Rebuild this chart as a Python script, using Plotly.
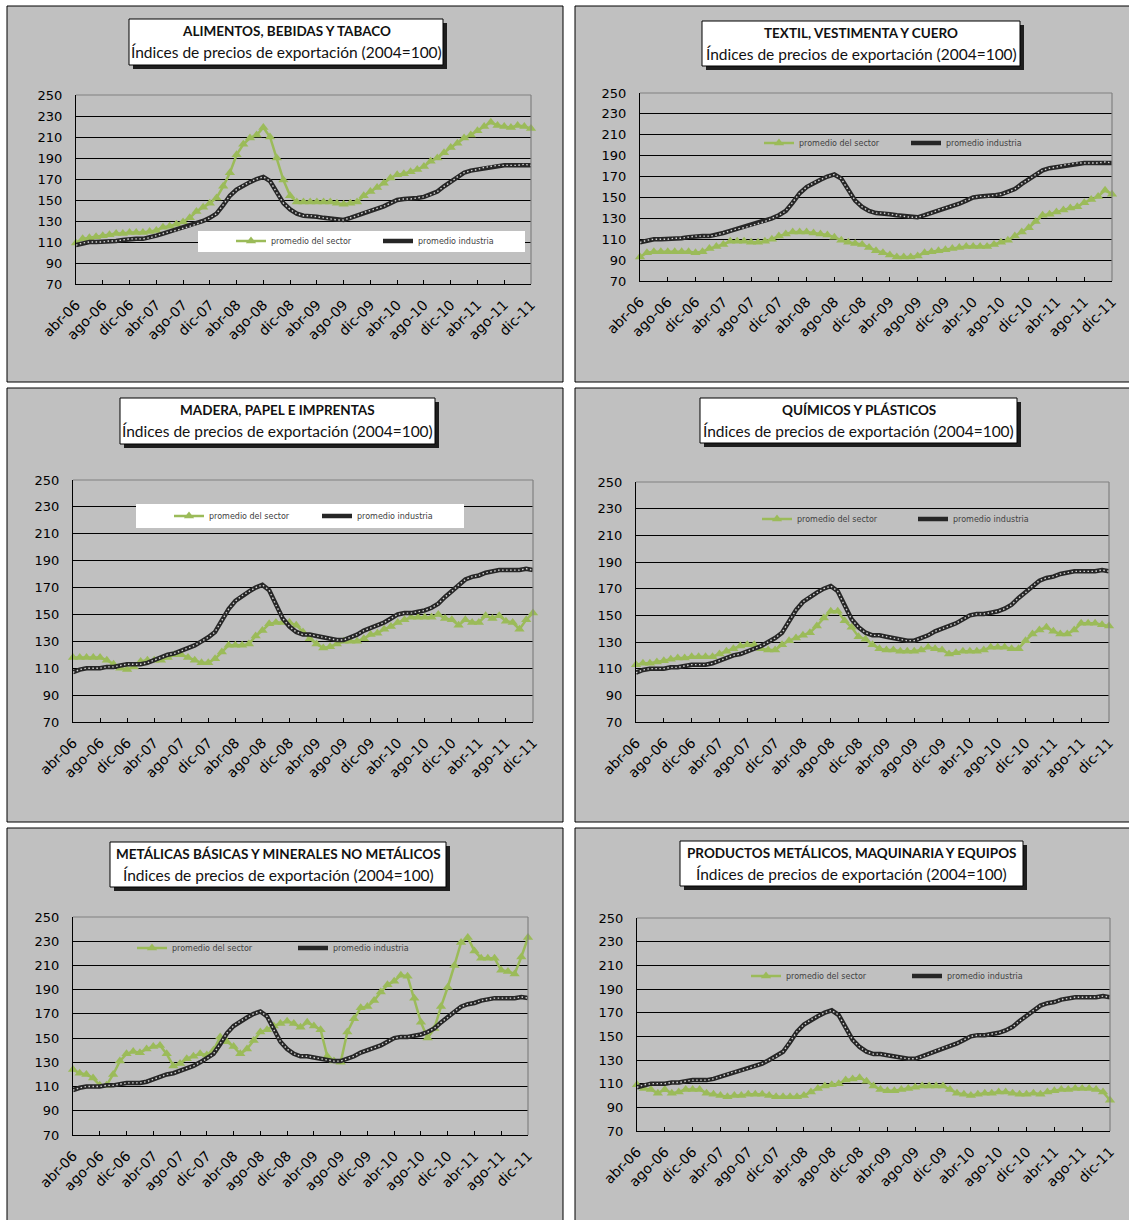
import plotly.graph_objects as go

W, H = 1129, 1220

# ---------------- data ----------------
month_abbr = ["ene", "feb", "mar", "abr", "may", "jun", "jul", "ago", "sep", "oct", "nov", "dic"]
periods = [f"{m}-{y:02d}" for y in range(6, 12) for m in month_abbr][3:]   # abr-06 ... dic-11
tick_labels = periods[::4]

industria = [107, 109, 110, 110, 110, 111, 111, 112, 113, 113, 113, 114,
             116, 118, 120, 121, 123, 125, 127, 130, 133, 137, 145, 154,
             160, 164, 167, 170, 172, 168, 157, 147, 141, 137, 135, 135,
             134, 133, 132, 131, 131, 133, 135, 138, 140, 142, 144, 147,
             150, 151, 151, 152, 153, 155, 158, 163, 167, 172, 176, 178,
             179, 181, 182, 183, 183, 183, 183, 184, 183]

alimentos = [109, 113, 114, 115, 116, 117, 118, 118, 119, 119, 119, 120,
             121, 124, 125, 127, 129, 133, 139, 143, 147, 152, 163, 176,
             193, 203, 209, 212, 219, 210, 190, 169, 154, 148, 148, 148,
             148, 148, 148, 147, 146, 147, 148, 154, 158, 162, 166, 171,
             174, 175, 177, 179, 182, 187, 190, 195, 200, 204, 209, 212,
             216, 220, 224, 221, 220, 219, 221, 220, 218]

textil = [93, 97, 98, 98, 98, 98, 98, 98, 97, 98, 101, 103,
          105, 108, 108, 108, 107, 107, 108, 110, 113, 115, 117, 117,
          117, 116, 115, 114, 112, 109, 107, 106, 105, 102, 99, 97,
          95, 93, 93, 93, 94, 97, 98, 99, 100, 101, 102, 103,
          103, 103, 103, 105, 107, 109, 113, 117, 121, 127, 133, 134,
          136, 138, 140, 141, 145, 148, 151, 157, 153]

madera = [118, 118, 118, 118, 118, 116, 113, 110, 109, 111, 115, 116,
          116, 116, 118, 120, 120, 118, 116, 114, 114, 117, 122, 127,
          127, 127, 128, 134, 138, 143, 144, 144, 144, 142, 137, 132,
          128, 125, 126, 128, 130, 130, 130, 132, 135, 136, 139, 141,
          144, 146, 148, 148, 148, 148, 150, 147, 146, 142, 146, 144,
          144, 149, 147, 149, 145, 144, 139, 146, 151]

quimicos = [113, 114, 114, 115, 116, 117, 118, 118, 119, 119, 119, 119,
            121, 123, 125, 127, 128, 128, 125, 124, 124, 128, 131, 133,
            135, 137, 142, 148, 153, 153, 146, 141, 134, 132, 128, 125,
            124, 124, 123, 123, 123, 124, 126, 125, 124, 121, 122, 123,
            123, 123, 124, 126, 126, 126, 125, 125, 131, 136, 139, 141,
            138, 136, 136, 139, 144, 144, 144, 143, 142]

metalicas = [124, 121, 120, 117, 111, 111, 120, 131, 137, 139, 138, 141,
             143, 144, 137, 127, 129, 133, 135, 137, 136, 140, 151, 147,
             143, 137, 141, 148, 155, 157, 160, 162, 164, 162, 159, 163,
             160, 157, 135, 131, 130, 155, 166, 175, 176, 181, 188, 194,
             197, 202, 201, 183, 163, 150, 158, 176, 192, 210, 229, 233,
             222, 216, 216, 216, 206, 205, 203, 217, 233]

productos = [109, 106, 105, 102, 105, 102, 103, 105, 105, 105, 102, 101,
             100, 99, 100, 100, 101, 101, 101, 100, 99, 99, 99, 99,
             100, 103, 106, 108, 109, 110, 113, 114, 115, 112, 108, 105,
             104, 104, 105, 106, 107, 108, 108, 108, 108, 105, 102, 101,
             100, 101, 102, 102, 103, 103, 102, 101, 101, 102, 101, 103,
             104, 105, 105, 106, 106, 106, 105, 103, 96]

titles = ["ALIMENTOS, BEBIDAS Y TABACO",
          "TEXTIL, VESTIMENTA Y CUERO",
          "MADERA, PAPEL E IMPRENTAS",
          "QUÍMICOS Y PLÁSTICOS",
          "METÁLICAS BÁSICAS Y MINERALES NO METÁLICOS",
          "PRODUCTOS METÁLICOS, MAQUINARIA Y EQUIPOS"]
subtitle = "Índices de precios de exportación (2004=100)"
sectors = [alimentos, textil, madera, quimicos, metalicas, productos]
name_sector = "promedio del sector"
name_industria = "promedio industria"

# ---------------- layout geometry (pixels) ----------------
panels = [
    dict(frame=(7, 6, 563, 382), plot=(76, 95, 531, 284), tbox=(129, 19, 443, 65),
         leg=(236, 241), gap=147, lbox=(198, 231, 525, 252)),
    dict(frame=(575, 6, 1135, 382), plot=(640, 93, 1112, 281), tbox=(702, 21, 1020, 66),
         leg=(764, 143), gap=147, lbox=None),
    dict(frame=(7, 388, 563, 822), plot=(73, 480, 533, 722), tbox=(120, 398, 435, 444),
         leg=(174, 516), gap=148, lbox=(136, 504, 464, 528)),
    dict(frame=(575, 388, 1135, 822), plot=(636, 482, 1109, 722), tbox=(700, 398, 1017, 443),
         leg=(762, 519), gap=156, lbox=None),
    dict(frame=(7, 828, 563, 1230), plot=(73, 917, 528, 1135), tbox=(110, 842, 446, 887),
         leg=(137, 948), gap=161, lbox=None),
    dict(frame=(575, 828, 1135, 1230), plot=(637, 918, 1110, 1131), tbox=(680, 841, 1023, 886),
         leg=(751, 976), gap=161, lbox=None),
]

GREEN = "#9BBB59"
DARK = "#262626"
YFONT = dict(family="DejaVu Sans", size=13, color="black")
XFONT = dict(family="DejaVu Sans", size=14, color="black")

def fx(x):
    return x / W

def fy(y):
    return 1 - y / H

fig = go.Figure()
shapes = []
annotations = []
layout_extra = {}

for k, (p, sec) in enumerate(zip(panels, sectors), start=1):
    sfx = "" if k == 1 else str(k)
    xa, ya, lg = "x" + sfx, "y" + sfx, "legend" + sfx

    fig.add_trace(go.Scatter(
        x=periods, y=sec, xaxis=xa, yaxis=ya, legend=lg, name=name_sector,
        mode="lines+markers", line=dict(color=GREEN, width=2.5),
        marker=dict(symbol="triangle-up", size=9, color=GREEN),
        cliponaxis=False, hoverinfo="skip"))
    fig.add_trace(go.Scatter(
        x=periods, y=industria, xaxis=xa, yaxis=ya, legend=lg, name=name_industria,
        mode="lines", line=dict(color=DARK, width=4.5), cliponaxis=False, hoverinfo="skip"))
    fig.add_trace(go.Scatter(
        x=periods, y=industria, xaxis=xa, yaxis=ya, showlegend=False,
        mode="lines", line=dict(color="rgba(255,255,255,0.8)", width=1.4, dash="1.5px,2.5px"),
        cliponaxis=False, hoverinfo="skip"))

    x0, y0, x1, y1 = p["plot"]
    layout_extra["xaxis" + sfx] = dict(
        domain=[fx(x0), fx(x1)], anchor=ya, type="category", range=[0, len(periods) - 1],
        tickmode="array", tickvals=tick_labels, ticktext=tick_labels, tickangle=-45,
        ticks="inside", ticklen=4, tickcolor="black", tickwidth=1,
        showline=True, linecolor="black", linewidth=1.3, showgrid=False, zeroline=False,
        tickfont=XFONT, ticklabelstandoff=6, automargin=False, fixedrange=True)
    layout_extra["yaxis" + sfx] = dict(
        domain=[fy(y1), fy(y0)], anchor=xa, range=[70, 250], tick0=70, dtick=20,
        showgrid=True, gridcolor="black", gridwidth=1, zeroline=False,
        showline=True, linecolor="black", linewidth=1.3, ticks="",
        tickfont=YFONT, ticklabelstandoff=10, automargin=False, fixedrange=True)

    lx, ly = p["leg"]
    layout_extra[lg] = dict(
        orientation="h", x=fx(lx - 5), y=fy(ly), xanchor="left", yanchor="middle",
        bgcolor="rgba(0,0,0,0)", borderwidth=0,
        font=dict(family="DejaVu Sans", size=8, color="#404040"),
        itemwidth=30, entrywidth=p["gap"] - 45, entrywidthmode="pixels",
        itemclick=False, itemdoubleclick=False)

    # frame
    fx0, fy0, fx1, fy1 = p["frame"]
    shapes.append(dict(type="rect", xref="paper", yref="paper",
                       x0=fx(fx0), x1=fx(fx1), y0=fy(fy1), y1=fy(fy0),
                       fillcolor="#C0C0C0", line=dict(color="black", width=1), layer="below"))
    # plot-area border (gray top/right)
    shapes.append(dict(type="line", xref=xa + " domain", yref=ya + " domain",
                       x0=0, x1=1, y0=1, y1=1, line=dict(color="#808080", width=1.2),
                       layer="above"))
    shapes.append(dict(type="line", xref=xa + " domain", yref=ya + " domain",
                       x0=1, x1=1, y0=0, y1=1, line=dict(color="#808080", width=1.2),
                       layer="above"))
    # legend white box covering gridlines
    if p["lbox"]:
        bx0, by0, bx1, by1 = p["lbox"]
        shapes.append(dict(type="rect", xref="paper", yref="paper",
                           x0=fx(bx0), x1=fx(bx1), y0=fy(by1), y1=fy(by0),
                           fillcolor="white", line=dict(width=0), layer="above"))
    # title box with shadow
    tx0, ty0, tx1, ty1 = p["tbox"]
    shapes.append(dict(type="rect", xref="paper", yref="paper",
                       x0=fx(tx0 + 4), x1=fx(tx1 + 4), y0=fy(ty1 + 4), y1=fy(ty0 + 4),
                       fillcolor="#1E1E1E", line=dict(width=0), layer="below"))
    shapes.append(dict(type="rect", xref="paper", yref="paper",
                       x0=fx(tx0), x1=fx(tx1), y0=fy(ty1), y1=fy(ty0),
                       fillcolor="white", line=dict(color="black", width=1), layer="below"))
    cx = (tx0 + tx1) / 2
    annotations.append(dict(xref="paper", yref="paper", x=fx(cx), y=fy(ty0 + 12),
                            text=titles[k - 1], showarrow=False, xanchor="center", yanchor="middle",
                            font=dict(family="Lato", size=13.5, color="#111", weight="bold")))
    annotations.append(dict(xref="paper", yref="paper", x=fx(cx), y=fy(ty0 + 33),
                            text=subtitle, showarrow=False, xanchor="center", yanchor="middle",
                            font=dict(family="Lato", size=15.5, color="#111")))

fig.update_layout(
    width=W, height=H, autosize=False,
    margin=dict(l=0, r=0, t=0, b=0, autoexpand=False),
    paper_bgcolor="white", plot_bgcolor="white",
    shapes=shapes, annotations=annotations,
    hovermode=False,
    **layout_extra)

fig.write_html("out.html", include_plotlyjs=True, config={"displayModeBar": False},
               post_script="document.body.style.margin='0';document.body.style.overflow='hidden';")
